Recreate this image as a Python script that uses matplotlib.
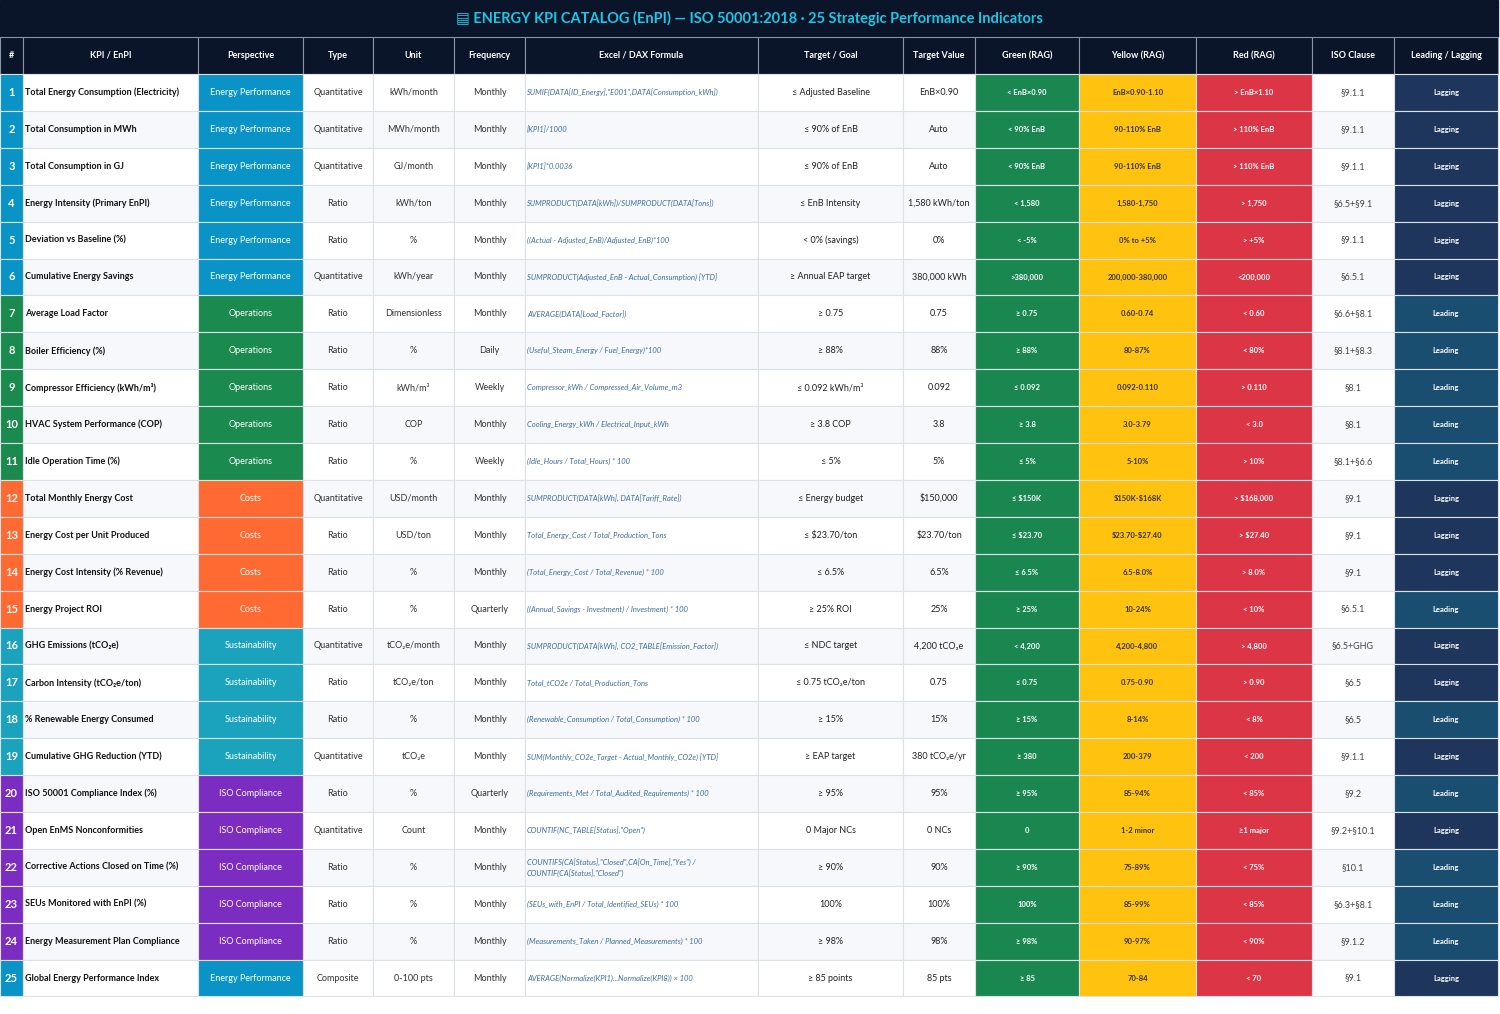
import matplotlib.pyplot as plt
from matplotlib.patches import Rectangle

plt.rcParams['font.family'] = ['Lato', 'DejaVu Sans']
plt.rcParams['text.parse_math'] = False

# ---- data ----
title = 'ENERGY KPI CATALOG (EnPI) — ISO 50001:2018 · 25 Strategic Performance Indicators'
headers = ['#', 'KPI / EnPI', 'Perspective', 'Type', 'Unit', 'Frequency', 'Excel / DAX Formula',
           'Target / Goal', 'Target Value', 'Green (RAG)', 'Yellow (RAG)', 'Red (RAG)', 'ISO Clause',
           'Leading / Lagging']

kpis = ['Total Energy Consumption (Electricity)', 'Total Consumption in MWh', 'Total Consumption in GJ',
        'Energy Intensity (Primary EnPI)', 'Deviation vs Baseline (%)', 'Cumulative Energy Savings',
        'Average Load Factor', 'Boiler Efficiency (%)', 'Compressor Efficiency (kWh/m³)',
        'HVAC System Performance (COP)', 'Idle Operation Time (%)', 'Total Monthly Energy Cost',
        'Energy Cost per Unit Produced', 'Energy Cost Intensity (% Revenue)', 'Energy Project ROI',
        'GHG Emissions (tCO₂e)', 'Carbon Intensity (tCO₂e/ton)', '% Renewable Energy Consumed',
        'Cumulative GHG Reduction (YTD)', 'ISO 50001 Compliance Index (%)', 'Open EnMS Nonconformities',
        'Corrective Actions Closed on Time (%)', 'SEUs Monitored with EnPI (%)',
        'Energy Measurement Plan Compliance', 'Global Energy Performance Index']
perspectives = ['Energy Performance'] * 6 + ['Operations'] * 5 + ['Costs'] * 4 + ['Sustainability'] * 4 \
    + ['ISO Compliance'] * 5 + ['Energy Performance']
types = ['Quantitative', 'Quantitative', 'Quantitative', 'Ratio', 'Ratio', 'Quantitative', 'Ratio', 'Ratio',
         'Ratio', 'Ratio', 'Ratio', 'Quantitative', 'Ratio', 'Ratio', 'Ratio', 'Quantitative', 'Ratio',
         'Ratio', 'Quantitative', 'Ratio', 'Quantitative', 'Ratio', 'Ratio', 'Ratio', 'Composite']
units = ['kWh/month', 'MWh/month', 'GJ/month', 'kWh/ton', '%', 'kWh/year', 'Dimensionless', '%', 'kWh/m³',
         'COP', '%', 'USD/month', 'USD/ton', '%', '%', 'tCO₂e/month', 'tCO₂e/ton', '%', 'tCO₂e', '%',
         'Count', '%', '%', '%', '0-100 pts']
freqs = ['Monthly'] * 7 + ['Daily', 'Weekly', 'Monthly', 'Weekly', 'Monthly', 'Monthly', 'Monthly',
                           'Quarterly', 'Monthly', 'Monthly', 'Monthly', 'Monthly', 'Quarterly',
                           'Monthly', 'Monthly', 'Monthly', 'Monthly', 'Monthly']
formulas = ['SUMIF(DATA[ID_Energy],"E001",DATA[Consumption_kWh])', '[KPI1]/1000', '[KPI1]*0.0036',
            'SUMPRODUCT(DATA[kWh])/SUMPRODUCT(DATA[Tons])',
            '((Actual - Adjusted_EnB)/Adjusted_EnB)*100',
            'SUMPRODUCT(Adjusted_EnB - Actual_Consumption) [YTD]', 'AVERAGE(DATA[Load_Factor])',
            '(Useful_Steam_Energy / Fuel_Energy)*100', 'Compressor_kWh / Compressed_Air_Volume_m3',
            'Cooling_Energy_kWh / Electrical_Input_kWh', '(Idle_Hours / Total_Hours) * 100',
            'SUMPRODUCT(DATA[kWh], DATA[Tariff_Rate])', 'Total_Energy_Cost / Total_Production_Tons',
            '(Total_Energy_Cost / Total_Revenue) * 100', '((Annual_Savings - Investment) / Investment) * 100',
            'SUMPRODUCT(DATA[kWh], CO2_TABLE[Emission_Factor])', 'Total_tCO2e / Total_Production_Tons',
            '(Renewable_Consumption / Total_Consumption) * 100',
            'SUM(Monthly_CO2e_Target - Actual_Monthly_CO2e) [YTD]',
            '(Requirements_Met / Total_Audited_Requirements) * 100', 'COUNTIF(NC_TABLE[Status],"Open")',
            'COUNTIFS(CA[Status],"Closed",CA[On_Time],"Yes") /\nCOUNTIF(CA[Status],"Closed")',
            '(SEUs_with_EnPI / Total_Identified_SEUs) * 100',
            '(Measurements_Taken / Planned_Measurements) * 100',
            'AVERAGE(Normalize(KPI1)...Normalize(KPI8)) × 100']
targets = ['≤ Adjusted Baseline', '≤ 90% of EnB', '≤ 90% of EnB', '≤ EnB Intensity', '< 0% (savings)',
           '≥ Annual EAP target', '≥ 0.75', '≥ 88%', '≤ 0.092 kWh/m³', '≥ 3.8 COP', '≤ 5%', '≤ Energy budget',
           '≤ $23.70/ton', '≤ 6.5%', '≥ 25% ROI', '≤ NDC target', '≤ 0.75 tCO₂e/ton', '≥ 15%', '≥ EAP target',
           '≥ 95%', '0 Major NCs', '≥ 90%', '100%', '≥ 98%', '≥ 85 points']
target_vals = ['EnB×0.90', 'Auto', 'Auto', '1,580 kWh/ton', '0%', '380,000 kWh', '0.75', '88%', '0.092',
               '3.8', '5%', '$150,000', '$23.70/ton', '6.5%', '25%', '4,200 tCO₂e', '0.75', '15%',
               '380 tCO₂e/yr', '95%', '0 NCs', '90%', '100%', '98%', '85 pts']
greens = ['< EnB×0.90', '< 90% EnB', '< 90% EnB', '< 1,580', '< -5%', '>380,000', '≥ 0.75', '≥ 88%',
          '≤ 0.092', '≥ 3.8', '≤ 5%', '≤ $150K', '≤ $23.70', '≤ 6.5%', '≥ 25%', '< 4,200', '≤ 0.75', '≥ 15%',
          '≥ 380', '≥ 95%', '0', '≥ 90%', '100%', '≥ 98%', '≥ 85']
yellows = ['EnB×0.90-1.10', '90-110% EnB', '90-110% EnB', '1,580-1,750', '0% to +5%', '200,000-380,000',
           '0.60-0.74', '80-87%', '0.092-0.110', '3.0-3.79', '5-10%', '$150K-$168K', '$23.70-$27.40',
           '6.5-8.0%', '10-24%', '4,200-4,800', '0.75-0.90', '8-14%', '200-379', '85-94%', '1-2 minor',
           '75-89%', '85-99%', '90-97%', '70-84']
reds = ['> EnB×1.10', '> 110% EnB', '> 110% EnB', '> 1,750', '> +5%', '<200,000', '< 0.60', '< 80%',
        '> 0.110', '< 3.0', '> 10%', '> $168,000', '> $27.40', '> 8.0%', '< 10%', '> 4,800', '> 0.90', '< 8%',
        '< 200', '< 85%', '≥1 major', '< 75%', '< 85%', '< 90%', '< 70']
clauses = ['§9.1.1', '§9.1.1', '§9.1.1', '§6.5+§9.1', '§9.1.1', '§6.5.1', '§6.6+§8.1', '§8.1+§8.3', '§8.1',
           '§8.1', '§8.1+§6.6', '§9.1', '§9.1', '§9.1', '§6.5.1', '§6.5+GHG', '§6.5', '§6.5', '§9.1.1',
           '§9.2', '§9.2+§10.1', '§10.1', '§6.3+§8.1', '§9.1.2', '§9.1']
lead_lag = ['Lagging'] * 6 + ['Leading'] * 5 + ['Lagging', 'Lagging', 'Lagging', 'Leading', 'Lagging',
                                                'Lagging', 'Leading', 'Lagging', 'Leading', 'Lagging',
                                                'Leading', 'Leading', 'Leading', 'Lagging']

# ---- style ----
persp_colors = {'Energy Performance': '#0993C6', 'Operations': '#1A8A4E', 'Costs': '#FF6A33',
                'Sustainability': '#1BA3BE', 'ISO Compliance': '#7A2DC0'}
ll_colors = {'Lagging': '#1E365C', 'Leading': '#1A4E70'}
col_edges = [0, 23, 198, 303, 373, 454, 525, 758, 903, 975, 1079, 1196, 1312, 1394, 1498]
W, H = 1500, 1014
title_h, head_h, row_h = 37, 37, 36.9
dark = '#0B1529'

fig = plt.figure(figsize=(W / 100, H / 100), dpi=100)
ax = fig.add_axes([0, 0, 1, 1])
ax.set_xlim(0, W)
ax.set_ylim(H, 0)
ax.axis('off')

ax.add_patch(Rectangle((0, 0), col_edges[-1], title_h, color=dark))
ax.text(col_edges[-1] / 2, title_h / 2, '▤ ' + title, ha='center', va='center', color='#1EC6E6',
        fontsize=10.5, fontweight='bold')

y0 = title_h
for j, h in enumerate(headers):
    x0, x1 = col_edges[j], col_edges[j + 1]
    ax.add_patch(Rectangle((x0, y0), x1 - x0, head_h, facecolor=dark, edgecolor='#8A94A6', lw=0.8))
    ax.text((x0 + x1) / 2, y0 + head_h / 2, h, ha='center', va='center', color='white', fontsize=6.5,
            fontweight='bold')

for i in range(len(kpis)):
    top = title_h + head_h + i * row_h
    bg = 'white' if i % 2 == 0 else '#F6F8FB'
    pc = persp_colors[perspectives[i]]
    cells = [
        (str(i + 1), pc, 'white', dict(fontsize=8, fontweight='bold')),
        (kpis[i], bg, '#111111', dict(fontsize=6.5, fontweight='bold')),
        (perspectives[i], pc, 'white', dict(fontsize=6.5)),
        (types[i], bg, '#333333', dict(fontsize=6.5)),
        (units[i], bg, '#333333', dict(fontsize=6.5)),
        (freqs[i], bg, '#333333', dict(fontsize=6.5)),
        (formulas[i], bg, '#3D6E9E', dict(fontsize=5.5, style='italic')),
        (targets[i], bg, '#222222', dict(fontsize=6.5)),
        (target_vals[i], bg, '#222222', dict(fontsize=6.5)),
        (greens[i], '#1A8751', 'white', dict(fontsize=5.5, fontweight='bold')),
        (yellows[i], '#FFC20E', '#333333', dict(fontsize=5.5, fontweight='bold')),
        (reds[i], '#DC3545', 'white', dict(fontsize=5.5, fontweight='bold')),
        (clauses[i], bg, '#444444', dict(fontsize=6.5)),
        (lead_lag[i], ll_colors[lead_lag[i]], 'white', dict(fontsize=5.5, fontweight='bold')),
    ]
    for j, (txt, fc, tc, kw) in enumerate(cells):
        x0, x1 = col_edges[j], col_edges[j + 1]
        ax.add_patch(Rectangle((x0, top), x1 - x0, row_h, facecolor=fc, edgecolor='#DDE2E8', lw=0.8))
        if j in (1, 6):
            ax.text(x0 + 2, top + row_h / 2, txt, ha='left', va='center', color=tc, linespacing=1.4, **kw)
        else:
            ax.text((x0 + x1) / 2, top + row_h / 2, txt, ha='center', va='center', color=tc, **kw)

fig.savefig('out.png', dpi=100, facecolor='white')
